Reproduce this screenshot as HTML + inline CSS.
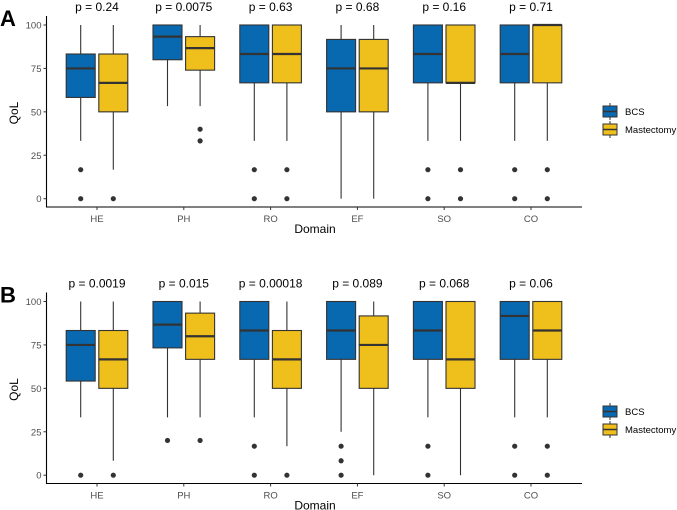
<!DOCTYPE html>
<html><head><meta charset="utf-8"><style>
body{margin:0;background:#fff;}
svg{display:block;font-family:"Liberation Sans",sans-serif;}
</style></head><body>
<svg id="chart" width="677" height="510"></svg>
<script>
const domains=["HE","PH","RO","EF","SO","CO"];
const groups=["BCS","Mastectomy"];
const yTicks=[0,25,50,75,100];
// panel A: [lowWhisker,q1,median,q3,highWhisker]
const aBCS=[[33.3,58.3,75,83.3,100],[53.3,80,93.3,100,100],[33.3,66.7,83.3,100,100],[0,50,75,91.7,100],[33.3,66.7,83.3,100,100],[33.3,66.7,83.3,100,100]];
const aMast=[[16.7,50,66.7,83.3,100],[53.3,74,86.7,93.3,100],[33.3,66.7,83.3,100,100],[0,50,75,91.7,100],[33.3,66.7,66.7,100,100],[33.3,66.7,100,100,100]];
const aBCSout=[[16.7,0],[],[16.7,0],[],[16.7,0],[16.7,0]];
const aMastOut=[[0],[40,33.3],[16.7,0],[],[16.7,0],[16.7,0]];
const aP=["p = 0.24","p = 0.0075","p = 0.63","p = 0.68","p = 0.16","p = 0.71"];
// panel B
const bBCS=[[33.3,54.2,75,83.3,100],[33.3,73.3,86.7,100,100],[33.3,66.7,83.3,100,100],[25,66.7,83.3,100,100],[33.3,66.7,83.3,100,100],[33.3,66.7,91.7,100,100]];
const bMast=[[8.3,50,66.7,83.3,100],[33.3,66.7,80,93.3,100],[16.7,50,66.7,83.3,100],[0,50,75,91.7,100],[0,50,66.7,100,100],[33.3,66.7,83.3,100,100]];
const bBCSout=[[0],[20],[16.7,0],[16.7,8.3,0],[16.7,0],[16.7,0]];
const bMastOut=[[0],[20],[0],[],[],[16.7,0]];
const bP=["p = 0.0019","p = 0.015","p = 0.00018","p = 0.089","p = 0.068","p = 0.06"];

const NS="http://www.w3.org/2000/svg";
const svg=document.getElementById('chart');
const colors=["#0868B0","#EFBF1B"];
function mk(t,a,parent){const e=document.createElementNS(NS,t);for(const k in a)e.setAttribute(k,a[k]);(parent||svg).appendChild(e);return e;}
function xC(i){return 97+i*86.8;}
function panel(letter,top,legTop,bcs,mast,bout,mout,pv){
  const y0=top+173.7, y=v=>y0-v*1.737;
  const g=mk('g',{});
  
  
  const L=mk('text',{x:0,y:top+1,'font-size':22,'font-weight':'bold',fill:'#000'},g);L.textContent=letter;
  
  mk('line',{x1:46.5,y1:top-9,x2:46.5,y2:top+182,stroke:'#000','stroke-width':1.1},g);
  mk('line',{x1:46,y1:top+182,x2:582,y2:top+182,stroke:'#000','stroke-width':1.1},g);
  yTicks.forEach(t=>{
    mk('line',{x1:43.5,x2:46.5,y1:y(t),y2:y(t),stroke:'#333'},g);
    const tx=mk('text',{x:41.5,y:y(t)+3.5,'font-size':9.5,fill:'#4d4d4d','text-anchor':'end'},g);tx.textContent=t;
    
  });
  const yl=mk('text',{transform:`translate(18,${top+88}) rotate(-90)`,'font-size':12,fill:'#000','text-anchor':'middle'},g);yl.textContent='QoL';
  
  const xl=mk('text',{x:315,y:top+208,'font-size':12,fill:'#000','text-anchor':'middle'},g);xl.textContent='Domain';
  
  domains.forEach((d,i)=>{
    const cx=xC(i);
    mk('line',{x1:cx,x2:cx,y1:top+182,y2:top+185,stroke:'#333'},g);
    const t=mk('text',{x:cx,y:top+197,'font-size':9.5,fill:'#4d4d4d','text-anchor':'middle'},g);t.textContent=d;
    
    const p=mk('text',{x:cx,y:top-14,'font-size':12,fill:'#000','text-anchor':'middle'},g);p.textContent=pv[i];
    
    [[bcs,bout,-16.3],[mast,mout,16.3]].forEach(([s,o,off],gi)=>{
      const v=s[i],bx=cx+off;
      mk('line',{x1:bx,x2:bx,y1:y(v[0]),y2:y(v[1]),stroke:'#333','stroke-width':1.1},g);
      mk('line',{x1:bx,x2:bx,y1:y(v[3]),y2:y(v[4]),stroke:'#333','stroke-width':1.1},g);
      const r=mk('rect',{x:bx-14.5,y:y(v[3]),width:29,height:y(v[1])-y(v[3]),fill:colors[gi],stroke:'#333','stroke-width':1.1},g);
      
      
      mk('line',{x1:bx-14.5,x2:bx+14.5,y1:y(v[2]),y2:y(v[2]),stroke:'#333','stroke-width':2.2},g);
      o[i].forEach(ov=>{
        const c=mk('circle',{cx:bx,cy:y(ov),r:2.6,fill:'#333'},g);
        
        
      });
    });
  });
  groups.forEach((gn,gi)=>{
    const ly=legTop+gi*18;
    const lg=mk('g',{},g);
    
    
    mk('line',{x1:610,x2:610,y1:ly-3,y2:ly+14,stroke:'#333'},lg);
    mk('rect',{x:603,y:ly,width:14,height:11,fill:colors[gi],stroke:'#333'},lg);
    mk('line',{x1:603,x2:617,y1:ly+5.5,y2:ly+5.5,stroke:'#333','stroke-width':1.5},lg);
    const t=mk('text',{x:625,y:ly+9,'font-size':9.5,fill:'#000'},lg);t.textContent=gn;
  });
}
panel('A',25,106,aBCS,aMast,aBCSout,aMastOut,aP);
panel('B',301.5,406,bBCS,bMast,bBCSout,bMastOut,bP);
</script>
</body></html>
